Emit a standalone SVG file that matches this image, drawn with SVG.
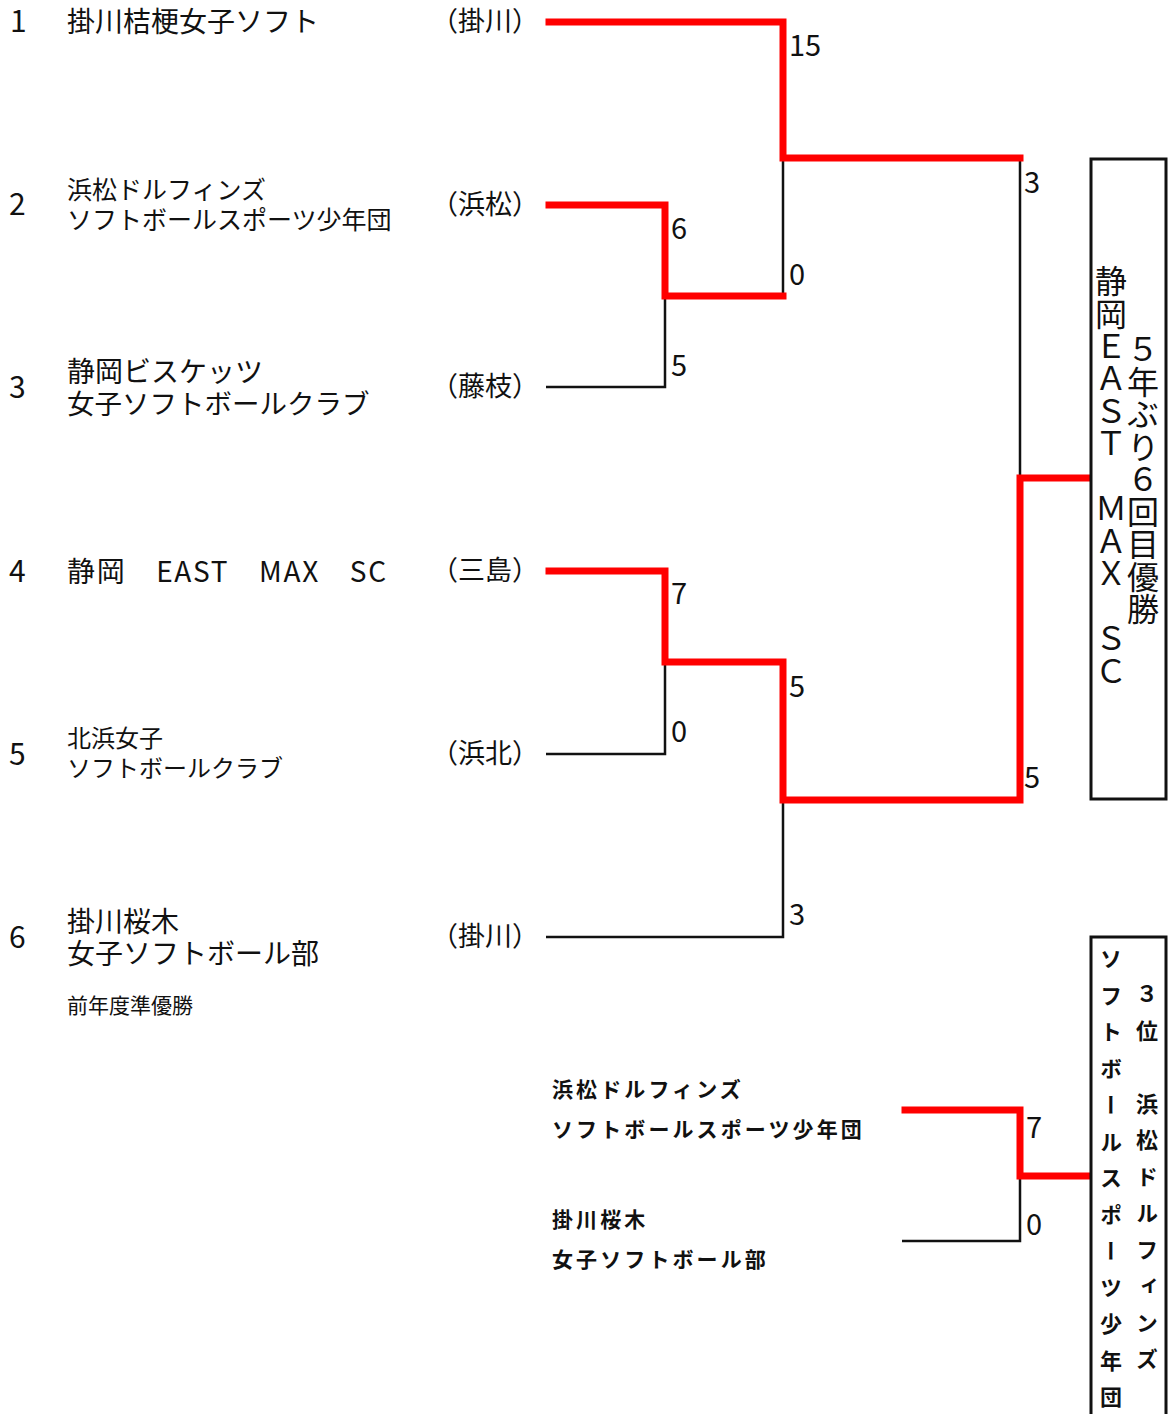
<svg xmlns="http://www.w3.org/2000/svg" width="1172" height="1414" viewBox="0 0 1172 1414">
<style>
text{font-family:"Noto Sans CJK JP","Noto Sans",sans-serif;fill:#111}
.num{font-size:30px}
.loc{font-size:27px}
.sc{font-size:29px}
.b{font-weight:bold}
.win{fill:none;stroke:#ff0000;stroke-width:7;stroke-linecap:square;stroke-linejoin:miter}
.lose{fill:none;stroke:#111;stroke-width:2.5}
.box{fill:#fff;stroke:#111;stroke-width:3}
.v{writing-mode:vertical-rl;text-orientation:upright}
</style>
<rect width="1172" height="1414" fill="#fff"/>
<g id="connectors">
<path class="lose" d="M783,158 V296"/>
<path class="lose" d="M546,387 H665 V296"/>
<path class="lose" d="M1020,158 V478"/>
<path class="lose" d="M546,754 H665 V662"/>
<path class="lose" d="M546,937 H783 V800"/>
<path class="lose" d="M1020,1176 V1241 H902"/>
<path class="win" d="M549,22 H783 V158 H1020"/>
<path class="win" d="M549,205 H665 V296 H783"/>
<path class="win" d="M1088,478 H1020 V800 H783 V662 H665 V571 H549"/>
<path class="win" d="M905,1110 H1020 V1176 H1089"/>
</g>
<g id="scores">
<text class="sc" x="789" y="56">15</text>
<text class="sc" x="671" y="239">6</text>
<text class="sc" x="789" y="285">0</text>
<text class="sc" x="671" y="376">5</text>
<text class="sc" x="1024" y="193">3</text>
<text class="sc" x="671" y="604">7</text>
<text class="sc" x="789" y="697">5</text>
<text class="sc" x="671" y="742">0</text>
<text class="sc" x="1024" y="788">5</text>
<text class="sc" x="789" y="925">3</text>
<text class="sc" x="1026" y="1138">7</text>
<text class="sc" x="1026" y="1235">0</text>
</g>
<g id="team1">
<text class="num" x="10" y="32">1</text>
<text x="67" y="32" font-size="28">掛川桔梗女子ソフト</text>
<text class="loc" x="431" y="31">（掛川）</text>
</g>
<g id="team2">
<text class="num" x="9" y="215">2</text>
<text x="67" y="199" font-size="25">浜松ドルフィンズ</text>
<text x="67" y="229" font-size="25">ソフトボールスポーツ少年団</text>
<text class="loc" x="431" y="214">（浜松）</text>
</g>
<g id="team3">
<text class="num" x="9" y="398">3</text>
<text x="67" y="382" font-size="28">静岡ビスケッツ</text>
<text x="67" y="414" font-size="27.5">女子ソフトボールクラブ</text>
<text class="loc" x="431" y="396">（藤枝）</text>
</g>
<g id="team4">
<text class="num" x="9" y="582">4</text>
<text x="67" y="582" font-size="28" textLength="319" lengthAdjust="spacing">静岡　EAST　MAX　SC</text>
<text class="loc" x="431" y="580">（三島）</text>
</g>
<g id="team5">
<text class="num" x="9" y="765">5</text>
<text x="67" y="747" font-size="24">北浜女子</text>
<text x="67" y="777" font-size="24">ソフトボールクラブ</text>
<text class="loc" x="431" y="763">（浜北）</text>
</g>
<g id="team6">
<text class="num" x="9" y="948">6</text>
<text x="67" y="932" font-size="28">掛川桜木</text>
<text x="67" y="964" font-size="28">女子ソフトボール部</text>
<text class="loc" x="431" y="946">（掛川）</text>
<text x="67" y="1013" font-size="21">前年度準優勝</text>
</g>
<g id="third-place-teams">
<text class="b" x="552" y="1097" font-size="21" letter-spacing="3.1">浜松ドルフィンズ</text>
<text class="b" x="552" y="1137" font-size="21" letter-spacing="3.1">ソフトボールスポーツ少年団</text>
<text class="b" x="552" y="1227" font-size="21" letter-spacing="3.1">掛川桜木</text>
<text class="b" x="552" y="1267" font-size="21" letter-spacing="3.1">女子ソフトボール部</text>
</g>
<g id="champion">
<rect class="box" x="1091" y="159" width="75" height="640"/>
<text class="v" x="1143" y="333" font-size="32" letter-spacing="0.5">５年ぶり６回目優勝</text>
<text class="v" x="1111" y="265" font-size="32" letter-spacing="0.5">静岡ＥＡＳＴ　ＭＡＸ　ＳＣ</text>
</g>
<g id="third">
<rect class="box" x="1091" y="937" width="75" height="500"/>
<text class="v b" x="1147" y="983" font-size="22" letter-spacing="14.5">３位　浜松ドルフィンズ</text>
<text class="v b" x="1111" y="948" font-size="22" letter-spacing="14.5">ソフトボールスポーツ少年団</text>
</g>
</svg>
